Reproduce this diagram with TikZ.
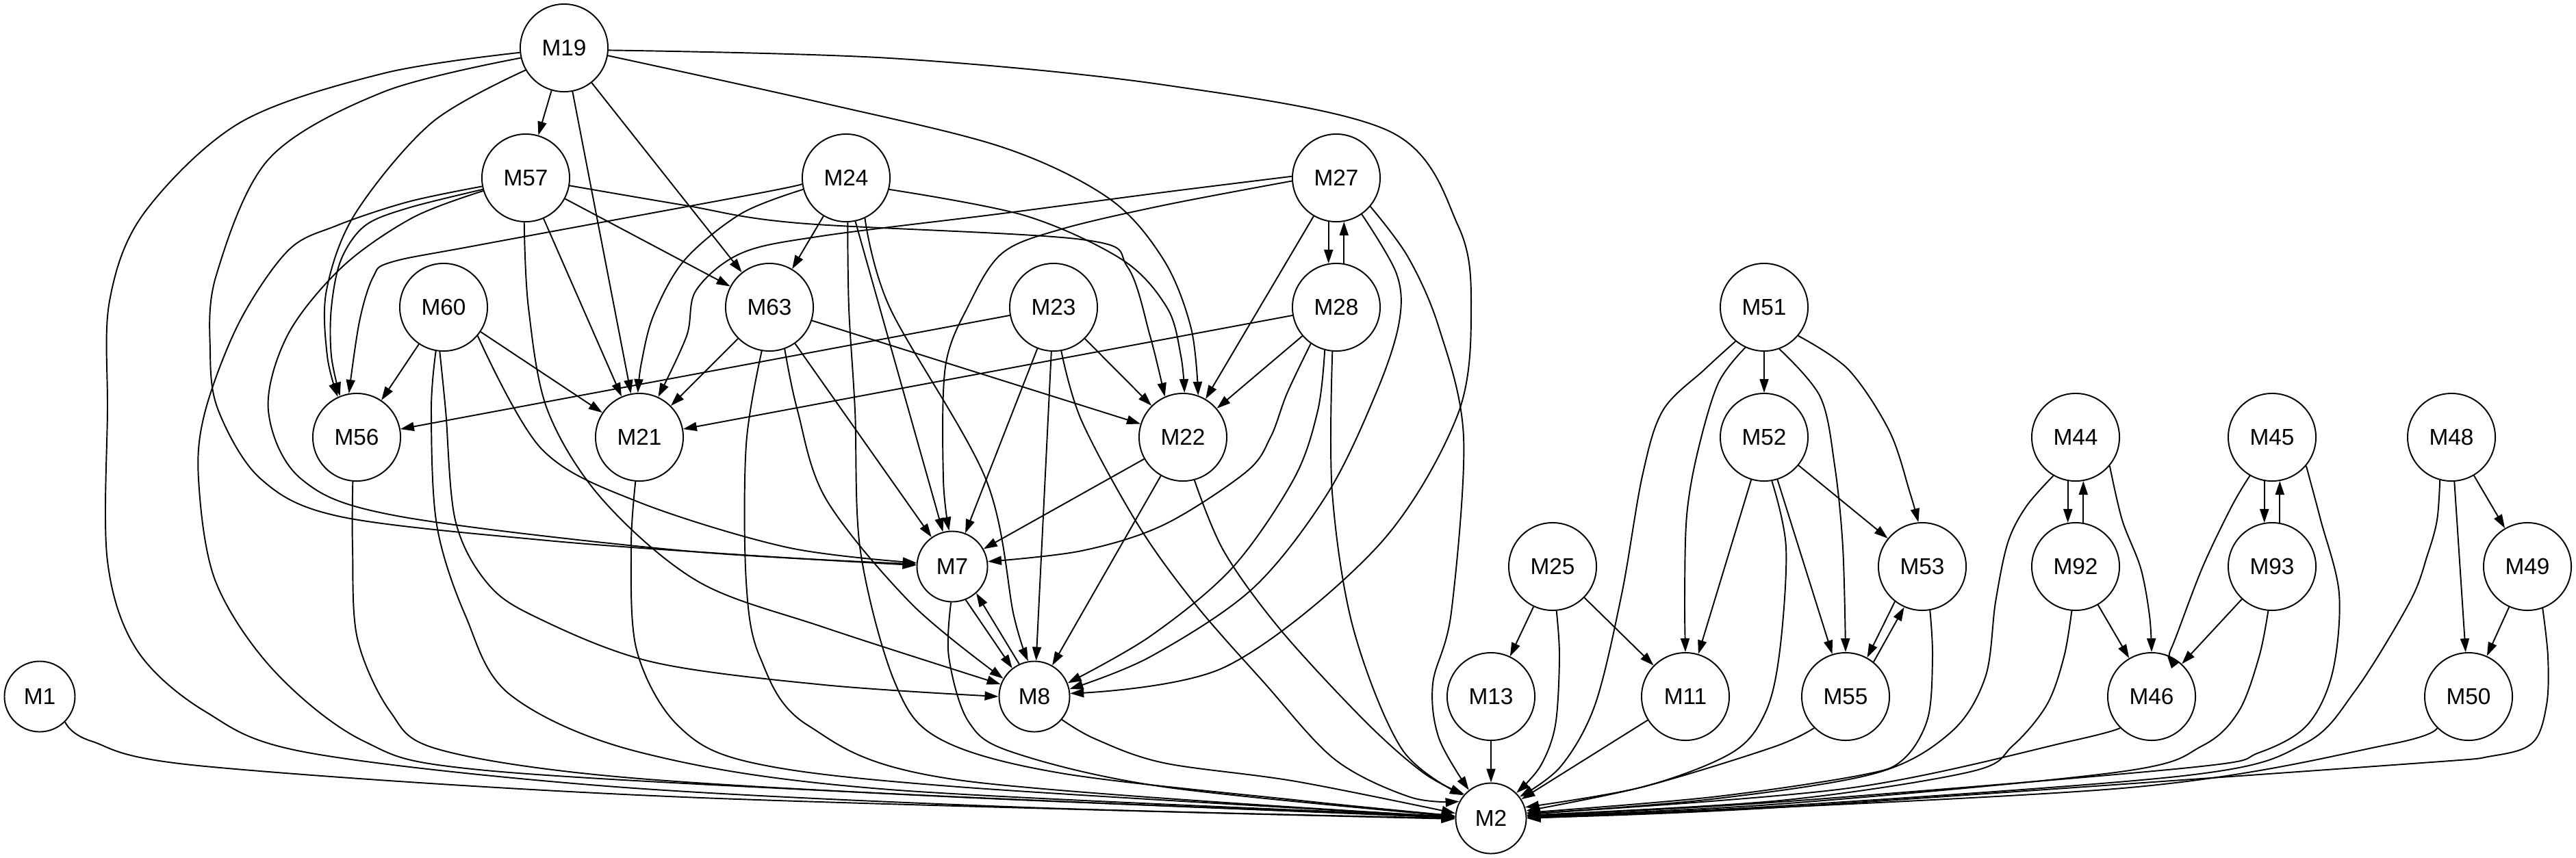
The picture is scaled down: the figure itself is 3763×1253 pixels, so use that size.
\documentclass[tikz,border=0pt]{standalone}
\usepackage{fontspec}
\setmainfont{Liberation Sans}
\usetikzlibrary{arrows.meta}
\begin{document}
\begin{tikzpicture}[x=0.01cm,y=-0.01cm,
  nd/.style={circle,draw,line width=0.55pt,minimum size=1.28cm,inner sep=0pt,font=\fontsize{9.5}{11}\selectfont},
  nds/.style={nd,minimum size=1.03cm},
  arr/.style={line width=0.55pt,-{Triangle[length=0.2cm,width=0.13cm]}},
  sm/.style={smooth,tension=0.55}]
\useasboundingbox (0,0) rectangle (3763,1253);
% nodes
\node[nd] (M19) at (824,70) {M19};
\node[nd] (M57) at (768,260) {M57};
\node[nd] (M24) at (1236,260) {M24};
\node[nd] (M27) at (1952,260) {M27};
\node[nd] (M60) at (648,449) {M60};
\node[nd] (M63) at (1124,449) {M63};
\node[nd] (M23) at (1539,449) {M23};
\node[nd] (M28) at (1952,449) {M28};
\node[nd] (M51) at (2577,449) {M51};
\node[nd] (M56) at (521,639) {M56};
\node[nd] (M21) at (934,639) {M21};
\node[nd] (M22) at (1728,639) {M22};
\node[nd] (M52) at (2577,639) {M52};
\node[nd] (M44) at (3032,639) {M44};
\node[nd] (M45) at (3319,639) {M45};
\node[nd] (M48) at (3581,639) {M48};
\node[nds] (M7) at (1391,828) {M7};
\node[nd] (M25) at (2268,828) {M25};
\node[nd] (M53) at (2808,828) {M53};
\node[nd] (M92) at (3032,828) {M92};
\node[nd] (M93) at (3319,828) {M93};
\node[nd] (M49) at (3692,828) {M49};
\node[nds] (M1) at (58,1018) {M1};
\node[nds] (M8) at (1511,1018) {M8};
\node[nd] (M13) at (2178,1018) {M13};
\node[nd] (M11) at (2462,1018) {M11};
\node[nd] (M55) at (2696,1018) {M55};
\node[nd] (M46) at (3143,1018) {M46};
\node[nd] (M50) at (3606,1018) {M50};
\node[nds] (M2) at (2178,1196) {M2};
% straight edges
\draw[arr] (M19) -- (M57);
\draw[arr] (M19) -- (M21);
\draw[arr] (M19) -- (M63);
\draw[arr] (M57) -- (M21);
\draw[arr] (M57) -- (M63);
\draw[arr] (M24) -- (M63);
\draw[arr] (M24.-78) -- (M7.105);
\draw[arr] (M60) -- (M56);
\draw[arr] (M60) -- (M21);
\draw[arr] (M63) -- (M21);
\draw[arr] (M63) -- (M22);
\draw[arr] (M63) -- (M7);
\draw[arr] (M23) -- (M56);
\draw[arr] (M23) -- (M22);
\draw[arr] (M23) -- (M7);
\draw[arr] (M23) -- (M8);
\draw[arr] (M27.-100) -- (M28.100);
\draw[arr] (M28.80) -- (M27.-80);
\draw[arr] (M27) -- (M22);
\draw[arr] (M28) -- (M22);
\draw[arr] (M28) -- (M21);
\draw[arr] (M22) -- (M7);
\draw[arr] (M22) -- (M8);
\draw[arr] (M7.-68) -- (M8.128);
\draw[arr] (M8.115) -- (M7.-48);
\draw[arr] (M25) -- (M13);
\draw[arr] (M25) -- (M11);
\draw[arr] (M13) -- (M2);
\draw[arr] (M11) -- (M2);
\draw[arr] (M51) -- (M52);
\draw[arr] (M52) -- (M53);
\draw[arr] (M52) -- (M11);
\draw[arr] (M52) -- (M55);
\draw[arr] (M53.232) -- (M55.61);
\draw[arr] (M55.51) -- (M53.246);
\draw[arr] (M44.-100) -- (M92.100);
\draw[arr] (M92.80) -- (M44.-80);
\draw[arr] (M45.-100) -- (M93.100);
\draw[arr] (M93.80) -- (M45.-80);
\draw[arr] (M92) -- (M46);
\draw[arr] (M93) -- (M46);
\draw[arr] (M48) -- (M49);
\draw[arr] (M48) -- (M50);
\draw[arr] (M49) -- (M50);
% curved edges, left part
\draw[arr] plot[sm] coordinates {(M19.186) (561,107) (351,179) (210,312) (160,440) (157,600) (157,820) (200,950) (300,1040) (450,1100) (900,1150) (1500,1180) (M2.180)};
\draw[arr] plot[sm] coordinates {(M19.193) (561,134) (393,232) (316,402) (307,513) (319,600) (381,700) (497,755) (800,790) (1100,812) (M7.178)};
\draw[arr] plot[sm] coordinates {(M19.210) (631,179) (519,312) (477,424) (478,520) (M56.115)};
\draw[arr] plot[sm] coordinates {(M19.-10) (1200,150) (1464,215) (1620,290) (1700,380) (1740,480) (M22.70)};
\draw[arr] plot[sm] coordinates {(M19.-3) (1300,85) (1700,124) (2030,192) (2130,330) (2149,447) (2129,607) (2012,799) (1789,975) (M8.5)};
\draw[arr] plot[sm] coordinates {(M57.191) (596,295) (491,330) (421,366) (350,470) (300,600) (290,700) (315,850) (400,980) (531,1083) (700,1125) (1300,1160) (M2.179)};
\draw[arr] plot[sm] coordinates {(M57.197) (603,318) (500,390) (420,490) (392,600) (440,700) (580,754) (1000,805) (M7.176)};
\draw[arr] plot[sm] coordinates {(M57.195) (596,304) (533,330) (498,380) (484,450) (484,520) (M56.112)};
\draw[arr] plot[sm] coordinates {(M57.-10) (1000,300) (1166,326) (1580,350) (1647,390) (1680,491) (M22.114)};
\draw[arr] plot[sm] coordinates {(M57.-92) (772,450) (800,600) (880,730) (1020,850) (1204,917) (M8.160)};
\draw[arr] plot[sm] coordinates {(M24.188) (1100,284) (700,358) (572,383) (545,405) (525,470) (M56.100)};
\draw[arr] plot[sm] coordinates {(M24.195) (1083,312) (1000,380) (955,460) (937,530) (M21.92)};
\draw[arr] plot[sm] coordinates {(M24.-15) (1497,315) (1640,380) (1705,450) (1725,520) (M22.88)};
\draw[arr] plot[sm] coordinates {(M24.-65) (1300,450) (1440,700) (1481,900) (M8.100)};
\draw[arr] plot[sm] coordinates {(M24.-88) (1240,450) (1249,600) (1257,806) (1307,997) (1373,1080) (1550,1130) (1900,1170) (M2.176)};
\draw[arr] plot[sm] coordinates {(M27.178) (1700,281) (1464,312) (1200,345) (1083,370) (1017,424) (1003,491) (M21.65)};
\draw[arr] plot[sm] coordinates {(M27.184) (1700,300) (1550,335) (1464,370) (1415,446) (1381,536) (1378,700) (M7.95)};
\draw[arr] plot[sm] coordinates {(M27.-55) (2040,400) (2044,470) (2012,570) (1940,720) (1830,860) (1680,960) (M8.12)};
\draw[arr] plot[sm] coordinates {(M27.-40) (2057,376) (2102,479) (2138,639) (2120,895) (2093,999) (2102,1079) (M2.128)};
\draw[arr] plot[sm] coordinates {(M28.-125) (1880,575) (1856,639) (1820,690) (1700,767) (1580,805) (M7.8)};
\draw[arr] plot[sm] coordinates {(M28.-105) (1925,600) (1890,700) (1800,830) (1680,930) (M8.22)};
\draw[arr] plot[sm] coordinates {(M28.-95) (1946,719) (1977,919) (2048,1095) (M2.140)};
\draw[arr] plot[sm] coordinates {(M60.-40) (791,656) (931,733) (1150,800) (M7.174)};
\draw[arr] plot[sm] coordinates {(M60.-95) (651,600) (665,760) (710,850) (779,900) (951,967) (1204,1001) (M8.180)};
\draw[arr] plot[sm] coordinates {(M60.-100) (630,600) (638,767) (680,900) (746,1016) (937,1100) (1300,1154) (M2.177)};
\draw[arr] plot[sm] coordinates {(M63.-100) (1090,650) (1090,850) (1110,960) (1180,1060) (1400,1140) (M2.178)};
\draw[arr] plot[sm] coordinates {(M63.-70) (1165,600) (1207,730) (1332,883) (M8.150)};
\draw[arr] plot[sm] coordinates {(M23.-80) (1580,615) (1663,768) (1746,883) (1846,997) (1950,1110) (2060,1165) (M2.152)};
\draw[arr] plot[sm] coordinates {(M22.-75) (1788,806) (1871,921) (1995,1055) (2080,1130) (M2.138)};
\draw[arr] plot[sm] coordinates {(M56.-95) (515,800) (522,933) (570,1040) (640,1095) (900,1135) (1400,1165) (M2.178)};
\draw[arr] plot[sm] coordinates {(M21.-95) (922,800) (930,950) (990,1060) (1100,1115) (1400,1150) (M2.178)};
\draw[arr] plot[sm] coordinates {(M7.-92) (1386,960) (1415,1055) (1481,1100) (1700,1150) (M2.177)};
\draw[arr] plot[sm] coordinates {(M8.-40) (1600,1080) (1700,1115) (1893,1142) (M2.172)};
\draw[arr] plot[sm] coordinates {(M1.-45) (133,1083) (300,1120) (1000,1165) (M2.181)};
% curved edges, right part
\draw[arr] plot[sm] coordinates {(M25.-85) (2278,960) (2272,1060) (2250,1120) (M2.45)};
\draw[arr] plot[sm] coordinates {(M51.-130) (2490,540) (2429,600) (2399,696) (2369,868) (2330,1030) (2280,1120) (M2.37)};
\draw[arr] plot[sm] coordinates {(M51.-115) (2510,560) (2480,660) (2464,753) (2461,870) (M11.90)};
\draw[arr] plot[sm] coordinates {(M51.-70) (2659,580) (2680,680) (2692,800) (M55.90)};
\draw[arr] plot[sm] coordinates {(M51.-40) (2700,540) (2760,630) (2790,720) (M53.95)};
\draw[arr] plot[sm] coordinates {(M52.-80) (2609,800) (2600,950) (2579,1041) (2530,1100) (2400,1150) (M2.18)};
\draw[arr] plot[sm] coordinates {(M55.-135) (2590,1092) (2400,1150) (M2.12)};
\draw[arr] plot[sm] coordinates {(M53.-80) (2823,960) (2816,1050) (2780,1110) (2718,1133) (2500,1165) (M2.9)};
\draw[arr] plot[sm] coordinates {(M44.-120) (2960,740) (2933,793) (2915,880) (2900,990) (2850,1070) (2740,1130) (2500,1168) (M2.7)};
\draw[arr] plot[sm] coordinates {(M92.-95) (3015,960) (2990,1030) (2940,1090) (2878,1128) (2600,1170) (M2.5)};
\draw[arr] plot[sm] coordinates {(M46.-135) (3030,1082) (2700,1152) (M2.7)};
\draw[arr] plot[sm] coordinates {(M45.-40) (3390,760) (3417,868) (3407,984) (3370,1060) (3300,1100) (3197,1122) (2600,1172) (M2.4)};
\draw[arr] plot[sm] coordinates {(M93.-95) (3300,960) (3270,1040) (3217,1090) (3097,1128) (2600,1175) (M2.3)};
\draw[arr] plot[sm] coordinates {(M48.-105) (3560,760) (3546,811) (3520,880) (3440,1010) (3366,1087) (3197,1133) (2600,1178) (M2.2)};
\draw[arr] plot[sm] coordinates {(M49.-70) (3722,960) (3720,1030) (3700,1085) (3640,1105) (3496,1118) (2600,1180) (M2.1)};
\draw[arr] plot[sm] coordinates {(M50.-135) (3490,1088) (3100,1152) (M2.0)};
\draw[arr] plot[sm] coordinates {(M44.-40) (3100,760) (3127,830) (3140,900) (M46.90)};
\draw[arr] plot[sm] coordinates {(M45.-120) (3260,740) (3217,830) (3175,940) (M46.70)};
\end{tikzpicture}
\end{document}
